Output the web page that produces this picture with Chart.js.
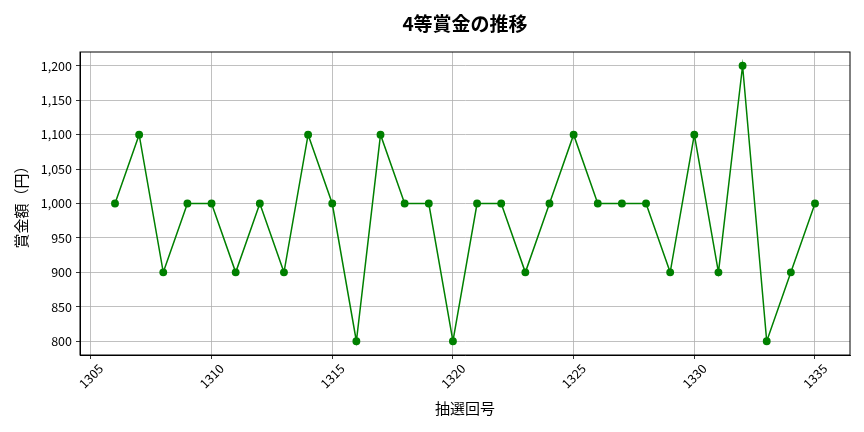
<!DOCTYPE html>
<html>
<head>
<meta charset="utf-8">
<script src="https://cdn.jsdelivr.net/npm/chart.js@4"></script>
<style>
    html, body { margin: 0; padding: 0; background: #fff; }
    #contenedor { width: 864px; height: 432px; }
</style>
</head>
<body>
<div id="contenedor"><canvas id="myChart"></canvas></div>
<script>
// datos
const kaigou = [1306, 1307, 1308, 1309, 1310, 1311, 1312, 1313, 1314, 1315,
                1316, 1317, 1318, 1319, 1320, 1321, 1322, 1323, 1324, 1325,
                1326, 1327, 1328, 1329, 1330, 1331, 1332, 1333, 1334, 1335];
const shoukin = [1000, 1100, 900, 1000, 1000, 900, 1000, 900, 1100, 1000,
                 800, 1100, 1000, 1000, 800, 1000, 1000, 900, 1000, 1100,
                 1000, 1000, 1000, 900, 1100, 900, 1200, 800, 900, 1000];
const ticksX = [1305, 1310, 1315, 1320, 1325, 1330, 1335];
const ticksY = [800, 850, 900, 950, 1000, 1050, 1100, 1150, 1200];
const TITULO = '4等賞金の推移';

const FUENTE = "'Noto Sans CJK JP', 'Noto Sans', sans-serif";
Chart.defaults.font.family = FUENTE;
Chart.defaults.color = '#000';

// marco alrededor del area + titulo centrado sobre el area
const marco = {
    id: 'marco',
    afterDraw(chart){
        let a = chart.chartArea;
        let ctx = chart.ctx;
        ctx.save();
        ctx.strokeStyle = '#000';
        ctx.lineWidth = 1;
        ctx.strokeRect(a.left, a.top, a.right - a.left, a.bottom - a.top);

        ctx.fillStyle = '#000';
        ctx.font = 'bold 19px ' + FUENTE;
        ctx.textAlign = 'center';
        ctx.textBaseline = 'middle';
        ctx.fillText(TITULO, (a.left + a.right) / 2, 24);
        ctx.restore();
    }
};

let puntos = kaigou.map((k, i) => ({x: k, y: shoukin[i]}));

let config = {
    type: 'line',
    data: {
        datasets: [{
            data: puntos,
            borderColor: '#008000',
            backgroundColor: '#008000',
            borderWidth: 1.5,
            pointRadius: 3.2,
            pointHoverRadius: 3.2,
            tension: 0
        }]
    },
    options: {
        responsive: true,
        maintainAspectRatio: false,
        animation: false,
        layout: { padding: { left: 0, right: 14, top: 52, bottom: 0 } },
        plugins: {
            legend: { display: false },
            tooltip: { enabled: false },
            title: { display: false }
        },
        scales: {
            x: {
                type: 'linear',
                min: 1304.55,
                max: 1336.45,
                afterBuildTicks(scale){
                    scale.ticks = ticksX.map(v => ({value: v}));
                },
                afterFit(scale){ scale.height = 77; },
                ticks: {
                    maxRotation: 45,
                    minRotation: 45,
                    font: { size: 12.5 },
                    padding: 2,
                    labelOffset: 10,
                    callback: v => String(v)
                },
                grid: { color: '#b0b0b0', lineWidth: 0.8, tickColor: '#000', tickLength: 4 },
                border: { color: '#000' },
                title: {
                    display: true,
                    text: '抽選回号',
                    font: { size: 15 },
                    padding: { top: 0, bottom: 15 }
                }
            },
            y: {
                min: 780,
                max: 1220,
                afterBuildTicks(scale){
                    scale.ticks = ticksY.map(v => ({value: v}));
                },
                afterFit(scale){ scale.width = 80; },
                ticks: {
                    font: { size: 12.5 },
                    padding: 4,
                    callback: v => v.toLocaleString('en-US')
                },
                grid: { color: '#b0b0b0', lineWidth: 0.8, tickColor: '#000', tickLength: 4 },
                border: { color: '#000' },
                title: {
                    display: true,
                    text: '賞金額（円）',
                    font: { size: 15 },
                    padding: { top: 12, bottom: 0 }
                }
            }
        }
    },
    plugins: [marco]
};

let myChart = new Chart(document.getElementById('myChart'), config);
</script>
</body>
</html>
